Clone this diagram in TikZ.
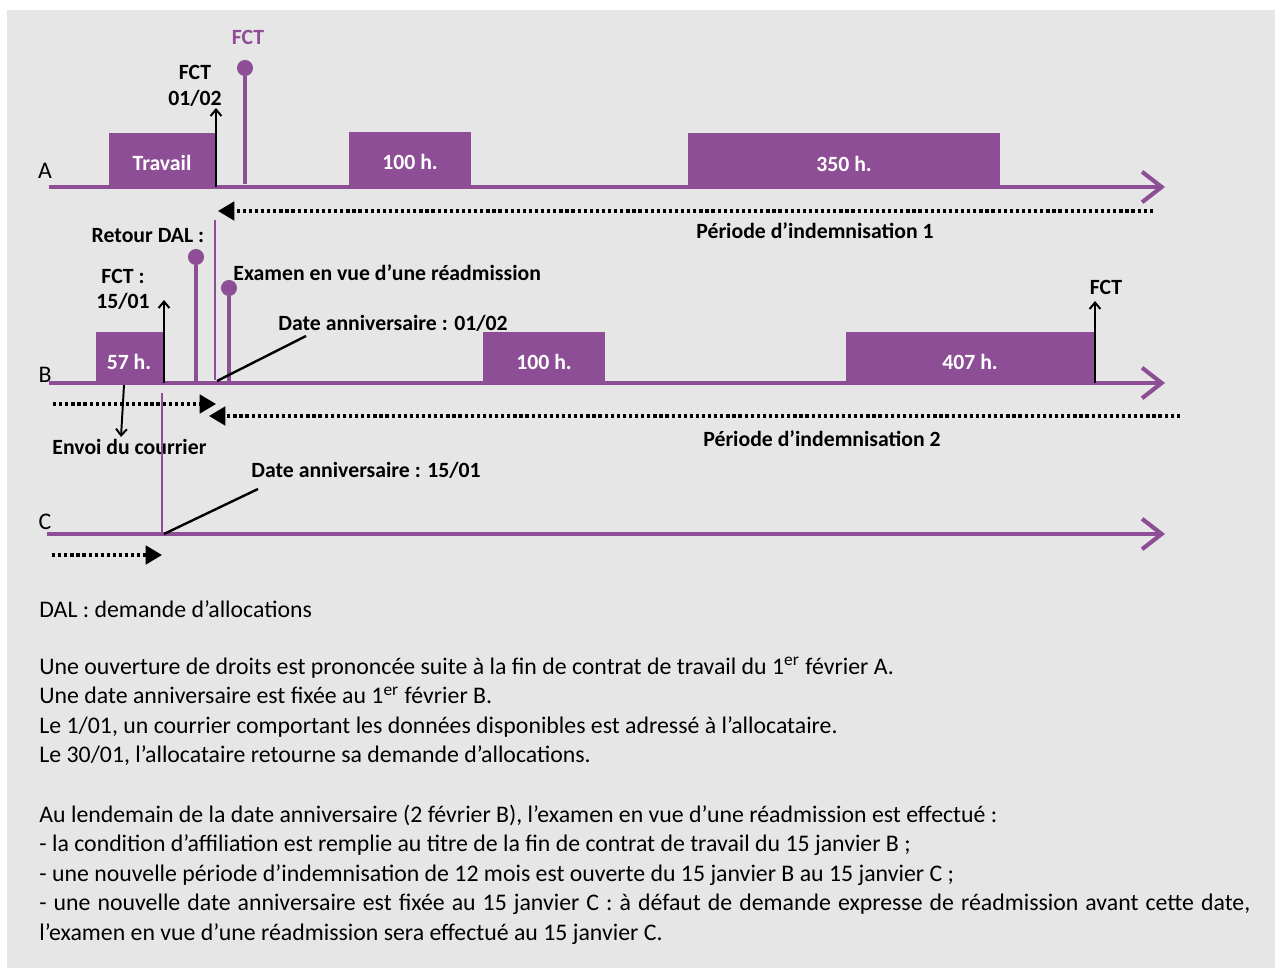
\documentclass[tikz,border=0pt,11pt]{standalone}
\usepackage{fontspec}
\setmainfont{Carlito}
\usetikzlibrary{arrows.meta}
\definecolor{fctpurple}{RGB}{142,78,150}
\definecolor{panelgray}{RGB}{230,230,230}
\tikzset{
  timeline/.style={draw=fctpurple, line width=1.9pt, -{Straight Barb[length=9pt,width=14pt]}},
  workbox/.style={fill=fctpurple},
  boxtext/.style={text=white, font=\fontsize{10}{12}\selectfont\bfseries},
  lbl/.style={font=\fontsize{10}{12}\selectfont\bfseries, inner sep=0pt},
  period/.style={line width=1.5pt, dash pattern=on 1.5pt off 1.3pt, -{Triangle[length=7.5pt,width=8.5pt]}},
  stick/.style={draw=fctpurple, line width=1.4pt},
  knob/.style={circle, fill=fctpurple, inner sep=0pt, minimum size=7.4pt},
  event/.style={line width=0.9pt, -{Straight Barb[length=3pt,width=5pt]}},
  guide/.style={draw=fctpurple, line width=0.5pt},
  pointer/.style={line width=1.1pt},
}
\begin{document}
\begin{tikzpicture}[x=0.46pt, y=-0.46pt]
\useasboundingbox (0,0) rectangle (1275,968);
\fill[white] (0,0) rectangle (1275,968);
\fill[panelgray] (7,10) rectangle (1275,968);

% ligne A
\path[workbox] (109,133) rectangle (216,187);
\path[workbox] (349,132) rectangle (471,185);
\path[workbox] (688,133) rectangle (1000,185);
\node[boxtext] (travail) at (162,163) {Travail};
\node[boxtext] (heuresA1) at (410,162) {100 h.};
\node[boxtext] (heuresA2) at (844,164) {350 h.};
\node (lineA) at (45,171) {A};
\coordinate (A0) at (49,187);
\coordinate (A1) at (1165,187);
\draw[timeline] (A0) -- (A1);

\node[lbl] (fctA) at (195,72) {FCT};
\node[lbl] (fctAdate) at (195,98) {01/02};
\coordinate (fctAbase) at (216,187);
\coordinate (fctAtop) at (216,108);
\draw[event] (fctAbase) -- (fctAtop);

\node[lbl, text=fctpurple] (fctAnew) at (248,37) {FCT};
\node[knob] (fctAknob) at (245,68) {};
\coordinate (fctAfoot) at (245,184);
\draw[stick] (fctAfoot) -- (fctAknob);

\coordinate (p1start) at (1153,211);
\coordinate (p1end) at (218,211);
\draw[period] (p1start) -- (p1end);
\node[lbl] (periode1) at (815,231) {Période d’indemnisation 1};

\coordinate (guideAtop) at (215,220);
\coordinate (guideAbot) at (215,380);
\draw[guide] (guideAtop) -- (guideAbot);

% ligne B
\path[workbox] (96,332) rectangle (164,383);
\path[workbox] (483,332) rectangle (605,383);
\path[workbox] (846,332) rectangle (1095,383);
\node[boxtext] (heuresB1) at (129,362) {57 h.};
\node[boxtext] (heuresB2) at (544,362) {100 h.};
\node[boxtext] (heuresB3) at (970,362) {407 h.};
\node (lineB) at (45,375) {B};
\coordinate (B0) at (49,383);
\coordinate (B1) at (1165,383);
\draw[timeline] (B0) -- (B1);

\node[lbl] (fctB) at (123,276) {FCT :};
\node[lbl] (fctBdate) at (123,301) {15/01};
\coordinate (fctBbase) at (164,383);
\coordinate (fctBtop) at (164,300);
\draw[event] (fctBbase) -- (fctBtop);

\coordinate (envoiBase) at (124,385);
\coordinate (envoiTip) at (121,437);
\draw[event] (envoiBase) -- (envoiTip);
\node[lbl, anchor=west] (envoi) at (52,447) {Envoi du courrier};

\node[lbl] (retour) at (148,236) {Retour DAL :};
\node[knob] (retourKnob) at (196,257) {};
\coordinate (retourFoot) at (196,381);
\draw[stick] (retourFoot) -- (retourKnob);

\node[lbl, anchor=west] (examen) at (233,273) {Examen en vue d’une réadmission};
\node[knob] (examenKnob) at (229,288) {};
\coordinate (examenFoot) at (229,381);
\draw[stick] (examenFoot) -- (examenKnob);

\node[lbl, anchor=west] (anniv1) at (278,323) {Date anniversaire : 01/02};
\coordinate (anniv1foot) at (217,381);
\coordinate (anniv1head) at (306,336);
\draw[pointer] (anniv1foot) -- (anniv1head);

\node[lbl] (fctBend) at (1106,287) {FCT};
\coordinate (fctBendBase) at (1095,383);
\coordinate (fctBendTop) at (1095,301);
\draw[event] (fctBendBase) -- (fctBendTop);

\coordinate (p0start) at (53,404);
\coordinate (p0end) at (216,404);
\draw[period] (p0start) -- (p0end);
\coordinate (p2start) at (1180,416);
\coordinate (p2end) at (209,416);
\draw[period] (p2start) -- (p2end);
\node[lbl] (periode2) at (822,439) {Période d’indemnisation 2};

\coordinate (guideBtop) at (162,393);
\coordinate (guideBbot) at (162,534);
\draw[guide] (guideBtop) -- (guideBbot);

% ligne C
\node (lineC) at (45,522) {C};
\coordinate (C0) at (47,534);
\coordinate (C1) at (1165,534);
\draw[timeline] (C0) -- (C1);

\node[lbl, anchor=west] (anniv2) at (251,470) {Date anniversaire : 15/01};
\coordinate (anniv2foot) at (164,534);
\coordinate (anniv2head) at (258,489);
\draw[pointer] (anniv2foot) -- (anniv2head);

\coordinate (p3start) at (52,555);
\coordinate (p3end) at (162,555);
\draw[period] (p3start) -- (p3end);

% texte
\node[anchor=base west, inner sep=0pt] (dal) at (39,618) {DAL : demande d’allocations};
\node[anchor=base west, inner sep=0pt, align=left] (droits) at (39,763)
  {Une ouverture de droits est prononcée suite à la fin de contrat de travail du 1\textsuperscript{\scriptsize er} février A.\\
   Une date anniversaire est fixée au 1\textsuperscript{\scriptsize er} février B.\\
   Le 1/01, un courrier comportant les données disponibles est adressé à l’allocataire.\\
   Le 30/01, l’allocataire retourne sa demande d’allocations.};
\node[anchor=base west, inner sep=0pt, text width=557pt, align=justify] (examenTxt) at (39,822)
  {Au lendemain de la date anniversaire (2 février B), l’examen en vue d’une réadmission est effectué :\\
   - la condition d’affiliation est remplie au titre de la fin de contrat de travail du 15 janvier B ;\\
   - une nouvelle période d’indemnisation de 12 mois est ouverte du 15 janvier B au 15 janvier C ;\\
   - une nouvelle date anniversaire est fixée au 15 janvier C : à défaut de demande expresse de réadmission avant cette date,\linebreak
   l’examen en vue d’une réadmission sera effectué au 15 janvier C.};
\end{tikzpicture}
\end{document}
